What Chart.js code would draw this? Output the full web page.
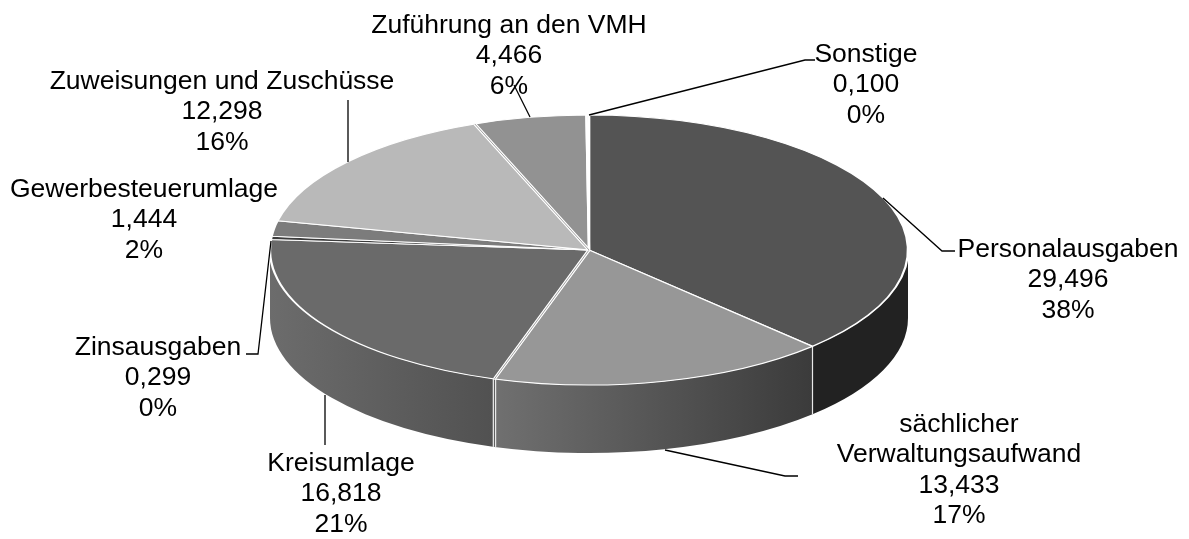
<!DOCTYPE html>
<html>
<head>
<meta charset="utf-8">
<style>
  html, body { margin: 0; padding: 0; background: #fff; }
  #wrap { width: 1189px; height: 539px; }
</style>
<script src="https://cdn.jsdelivr.net/npm/chart.js@4"></script>
</head>
<body>
<div id="wrap"><canvas id="graph" width="1189" height="539"></canvas></div>
<script>
// Data
const categories = ['Personalausgaben', ['sächlicher', 'Verwaltungsaufwand'], 'Kreisumlage', 'Zinsausgaben',
    'Gewerbesteuerumlage', 'Zuweisungen und Zuschüsse', 'Zuführung an den VMH', 'Sonstige'];
const amounts = [29.496, 13.433, 16.818, 0.299, 1.444, 12.298, 4.466, 0.100];
const amountLabels = ['29,496', '13,433', '16,818', '0,299', '1,444', '12,298', '4,466', '0,100'];
const percentLabels = ['38%', '17%', '21%', '0%', '2%', '16%', '6%', '0%'];

// Slice colours
const topColors = ['#545454', '#979797', '#6a6a6a', '#3c3c3c', '#7c7c7c', '#b9b9b9', '#929292', '#dcdcdc'];
const wallColors = [['#222222', '#222222'], ['#707070', '#3b3b3b'], ['#6c6c6c', '#515151'], ['#444444', '#444444'],
    ['#555555', '#555555'], ['#777777', '#777777'], ['#666666', '#666666'], ['#999999', '#999999']];

// Slices whose closing edge shows as a double white line
const doubleEdges = [1, 5];

// Where the flattened disc sits on the page
const disc = { x: 589, y: 250, rx: 319, ry: 135, depth: 68 };

// Label centre and first line y, then the leader line for that label
const labelSpots = [
    { x: 1068, y: 248, leader: [[883, 198], [942, 251], [955, 251]] },
    { x: 959, y: 423, leader: [[665, 450], [785, 476], [798, 476]] },
    { x: 341, y: 462, leader: [[325, 395], [325, 445]] },
    { x: 158, y: 346, leader: [[271, 241], [258, 354], [246, 354]] },
    { x: 144, y: 188, leader: null },
    { x: 222, y: 80, leader: [[348, 162], [348, 100]] },
    { x: 509, y: 24, leader: [[530, 117], [514, 85]] },
    { x: 866, y: 53, leader: [[589, 115], [805, 60], [815, 60]] }
];
const lineHeight = 30.4;

const flatDisc = {
    id: 'flatDisc',
    beforeDatasetsDraw(chart) {
        const ctx = chart.ctx;
        const arcs = chart.getDatasetMeta(0).data;

        // Front wall of every slice that faces the viewer
        arcs.forEach((arc, i) => {
            const lo = Math.max(arc.startAngle, 0);
            const hi = Math.min(arc.endAngle, Math.PI);
            if (hi <= lo) return;
            const xLo = disc.x + disc.rx * Math.cos(lo);
            const xHi = disc.x + disc.rx * Math.cos(hi);
            const grad = ctx.createLinearGradient(xHi, 0, xLo, 0);
            grad.addColorStop(0, wallColors[i][0]);
            grad.addColorStop(1, wallColors[i][1]);
            ctx.beginPath();
            ctx.ellipse(disc.x, disc.y, disc.rx, disc.ry, 0, lo, hi);
            ctx.ellipse(disc.x, disc.y + disc.depth, disc.rx, disc.ry, 0, hi, lo, true);
            ctx.closePath();
            ctx.fillStyle = grad;
            ctx.fill();
        });

        // Slice edges running down the wall
        ctx.strokeStyle = '#e8e8e8';
        arcs.forEach((arc, i) => {
            if (arc.endAngle <= 0 || arc.endAngle >= Math.PI) return;
            const x = disc.x + disc.rx * Math.cos(arc.endAngle);
            const y = disc.y + disc.ry * Math.sin(arc.endAngle);
            ctx.lineWidth = doubleEdges.includes(i) ? 3.5 : 1.2;
            ctx.beginPath();
            ctx.moveTo(x, y);
            ctx.lineTo(x, y + disc.depth);
            ctx.stroke();
            if (doubleEdges.includes(i)) {
                ctx.save();
                ctx.strokeStyle = '#5a5a5a';
                ctx.lineWidth = 1;
                ctx.stroke();
                ctx.restore();
            }
        });

        // The library draws the top face, squashed onto the ellipse
        const r = arcs[0].outerRadius;
        ctx.save();
        ctx.translate(disc.x, disc.y);
        ctx.scale(disc.rx / r, disc.ry / r);
        ctx.translate(-arcs[0].x, -arcs[0].y);
    },
    afterDatasetsDraw(chart) {
        const ctx = chart.ctx;
        const arcs = chart.getDatasetMeta(0).data;
        ctx.restore();

        // Double edges on the top face
        doubleEdges.forEach((i) => {
            const x = disc.x + disc.rx * Math.cos(arcs[i].endAngle);
            const y = disc.y + disc.ry * Math.sin(arcs[i].endAngle);
            ctx.beginPath();
            ctx.moveTo(disc.x, disc.y);
            ctx.lineTo(x, y);
            ctx.strokeStyle = '#ffffff';
            ctx.lineWidth = 3;
            ctx.stroke();
            ctx.strokeStyle = '#8c8c8c';
            ctx.lineWidth = 0.8;
            ctx.stroke();
        });

        ctx.strokeStyle = '#000';
        ctx.lineWidth = 1.3;
        labelSpots.forEach((spot) => {
            if (!spot.leader) return;
            ctx.beginPath();
            spot.leader.forEach((p, k) => (k ? ctx.lineTo(p[0], p[1]) : ctx.moveTo(p[0], p[1])));
            ctx.stroke();
        });

        ctx.fillStyle = '#000';
        ctx.font = '26.5px "Liberation Sans", Arial, sans-serif';
        ctx.textAlign = 'center';
        ctx.textBaseline = 'middle';
        labelSpots.forEach((spot, i) => {
            const lines = [].concat(categories[i], amountLabels[i], percentLabels[i]);
            lines.forEach((line, k) => ctx.fillText(line, spot.x, spot.y + 1.5 + k * lineHeight));
        });
    }
};

const ctx = document.getElementById('graph').getContext('2d');
const chart = new Chart(ctx, {
    type: 'pie',
    data: {
        labels: categories,
        datasets: [{
            data: amounts,
            backgroundColor: topColors,
            borderColor: '#ffffff',
            borderWidth: 2,
            clip: false
        }]
    },
    options: {
        responsive: false,
        animation: false,
        plugins: {
            legend: { display: false },
            tooltip: { enabled: false },
            title: { display: false }
        }
    },
    plugins: [flatDisc]
});
</script>
</body>
</html>
